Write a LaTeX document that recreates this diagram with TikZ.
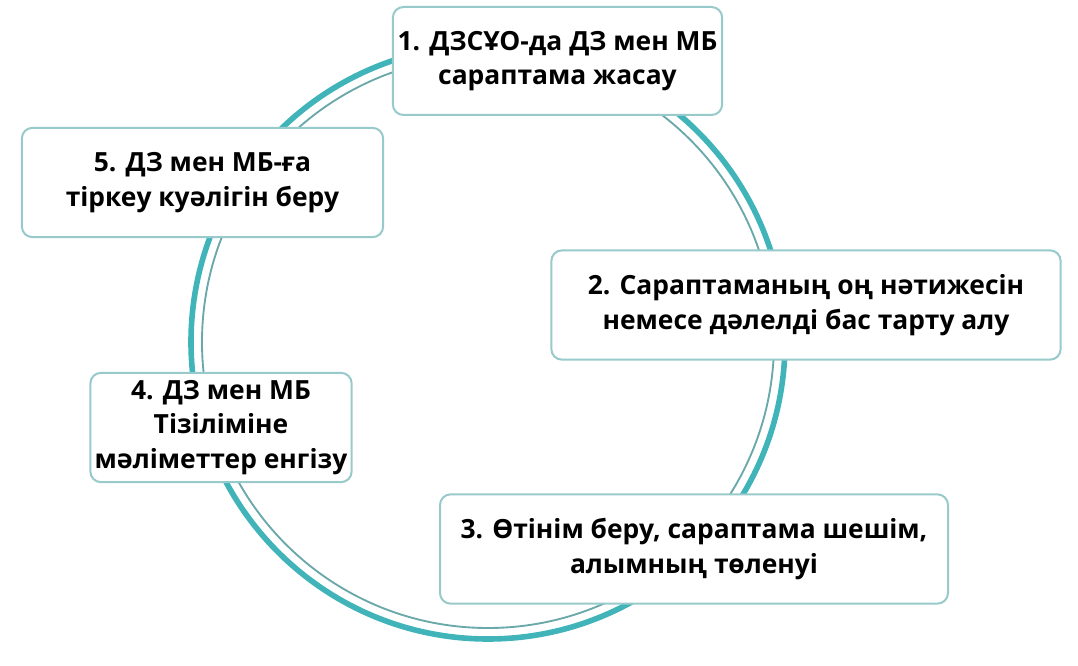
\documentclass[tikz,border=0pt]{standalone}
\usepackage{fontspec}
\setmainfont{Open Sans}
\usepackage{tikz}

\definecolor{ringteal}{HTML}{40B4B9}
\definecolor{ringgray}{HTML}{6AA8AA}
\definecolor{boxline}{HTML}{98C9CB}

\begin{document}
\begin{tikzpicture}[x=0.75pt, y=-0.75pt,
    stagebox/.style={draw=boxline, line width=1.5pt, fill=white, rounded corners=8pt,
      align=center, inner sep=0pt, font=\fontsize{19.8}{26}\selectfont\bfseries}]
    \useasboundingbox (0, 0) rectangle (1078, 666);
    % ring
    \draw [ringteal, line width=4.2pt] (488, 342) circle (297);
    \draw [ringgray, line width=1.4pt] (488, 342) circle (286);
    % stages
    \node [stagebox, minimum width=247pt, minimum height=81pt] (stage1) at (557.5, 61)
      {1. ДЗСҰО-да ДЗ мен МБ\\сараптама жасау};
    \node [stagebox, minimum width=382pt, minimum height=82pt] (stage2) at (806, 305)
      {2. Сараптаманың оң нәтижесін\\немесе дәлелді бас тарту алу};
    \node [stagebox, minimum width=381pt, minimum height=82pt] (stage3) at (694, 549)
      {3. Өтінім беру, сараптама шешім,\\алымның төленуі};
    \node [stagebox, minimum width=196pt, minimum height=82pt] (stage4) at (221, 427.5)
      {4. ДЗ мен МБ\\Тізіліміне\\мәліметтер енгізу};
    \node [stagebox, minimum width=271pt, minimum height=82pt] (stage5) at (202.5, 182.5)
      {5. ДЗ мен МБ-ға\\тіркеу куәлігін беру};
  \end{tikzpicture}
\end{document}
